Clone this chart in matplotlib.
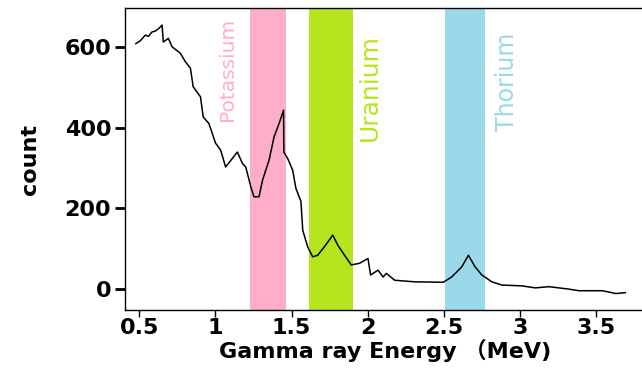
import numpy as np
import matplotlib
matplotlib.use('Agg')
import matplotlib.pyplot as plt

plt.rcParams['font.family'] = ['DejaVu Sans', 'Noto Sans CJK SC']

# spectrum: energy (MeV), count
energy = [0.478, 0.507, 0.540, 0.561, 0.584, 0.605, 0.627, 0.650, 0.658, 0.691,
          0.716, 0.770, 0.803, 0.836, 0.854, 0.902, 0.920, 0.957, 1.001, 1.034,
          1.067, 1.144, 1.177, 1.199, 1.232, 1.253, 1.286, 1.309, 1.352, 1.385,
          1.418, 1.447, 1.449, 1.474, 1.507, 1.528, 1.561, 1.573, 1.605, 1.638,
          1.671, 1.715, 1.770, 1.803, 1.847, 1.891, 1.946, 2.001, 2.018, 2.067,
          2.100, 2.122, 2.176, 2.308, 2.495, 2.550, 2.616, 2.660, 2.704, 2.748,
          2.814, 2.880, 3.012, 3.099, 3.188, 3.319, 3.385, 3.539, 3.627, 3.689]
count = [609, 616, 630, 627, 638, 640, 646, 655, 613, 622,
         601, 585, 564, 548, 502, 477, 427, 411, 362, 345,
         303, 340, 312, 303, 254, 229, 229, 270, 320, 378,
         411, 444, 340, 324, 295, 250, 218, 146, 105, 80,
         84, 105, 134, 109, 84, 60, 64, 76, 35, 47,
         30, 39, 22, 18, 17, 30, 55, 84, 55, 35,
         18, 10, 8, 3, 6, 0, -4, -4, -11, -9]

# energy windows
windows = ['Potassium', 'Uranium', 'Thorium']
win_lo = [1.225, 1.615, 2.505]
win_hi = [1.465, 1.905, 2.77]
win_colors = ['#FFAEC9', '#B5E61D', '#99D9EA']
label_x = [1.08, 2.015, 2.915]
label_y = [545, 500, 515]
label_size = [14.5, 18, 17]

fig = plt.figure(figsize=(6.42, 3.70), dpi=100)
ax = fig.add_axes([0.195, 0.162, 0.81, 0.816])

for name, lo, hi, c, lx, ly, fs in zip(windows, win_lo, win_hi, win_colors,
                                       label_x, label_y, label_size):
    ax.axvspan(lo, hi, color=c, lw=0, zorder=1)
    ax.text(lx, ly, name, color=c, rotation=90, fontsize=fs,
            ha='center', va='center', zorder=3)

ax.plot(energy, count, color='black', lw=1.1, zorder=4)

ax.set_xlim(0.408, 3.82)
ax.set_ylim(-52, 697)
ax.set_xticks([0.5, 1, 1.5, 2, 2.5, 3, 3.5])
ax.set_xticklabels(['0.5', '1', '1.5', '2', '2.5', '3', '3.5'])
ax.set_yticks([0, 200, 400, 600])

ax.spines['right'].set_visible(False)
for s in ['left', 'bottom', 'top']:
    ax.spines[s].set_linewidth(1.0)

ax.tick_params(axis='y', length=7, width=2, labelsize=16, pad=3)
ax.tick_params(axis='x', length=5, width=1, labelsize=16, pad=1)
for lab in ax.get_xticklabels() + ax.get_yticklabels():
    lab.set_fontweight('bold')

ax.set_ylabel('count', fontsize=16, fontweight='bold', labelpad=18)
ax.set_xlabel('Gamma ray Energy （MeV)', fontsize=16, fontweight='bold', labelpad=0)

fig.savefig('out.png', dpi=100)
